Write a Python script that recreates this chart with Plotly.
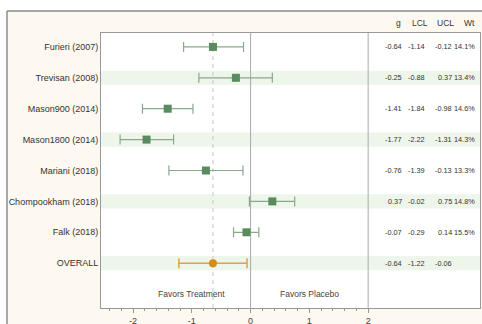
import plotly.graph_objects as go

studies = ["Furieri (2007)", "Trevisan (2008)", "Mason900 (2014)", "Mason1800 (2014)",
           "Mariani (2018)", "Chompookham (2018)", "Falk (2018)"]
g = [-0.64, -0.25, -1.41, -1.77, -0.76, 0.37, -0.07]
lcl = [-1.14, -0.88, -1.84, -2.22, -1.39, -0.02, -0.29]
ucl = [-0.12, 0.37, -0.98, -1.31, -0.13, 0.75, 0.14]
wt = ["14.1%", "13.4%", "14.6%", "14.3%", "13.3%", "14.8%", "15.5%"]
overall_label = "OVERALL"
overall_g = -0.64
overall_lcl = -1.22
overall_ucl = -0.06
tick_vals = [-2, -1, 0, 1, 2]
tick_text = ["-2", "-1", "0", "1", "2"]

labels = studies + [overall_label]
ys = list(range(len(labels)))

FONT = "Liberation Sans, Arial, sans-serif"
CREAM = "#fdf9f1"
fig = go.Figure()

# cream frame background and white plot area
fig.add_shape(type="rect", xref="paper", yref="paper", x0=-0.248, x1=1.2, y0=-0.3, y1=1.08,
              fillcolor=CREAM, line_width=0, layer="below")
fig.add_shape(type="rect", xref="paper", yref="paper", x0=0, x1=1, y0=0, y1=1,
              fillcolor="#ffffff", line_width=0, layer="below")

# stripes on alternate rows
for i in ys:
    if i % 2 == 1:
        fig.add_shape(type="rect", xref="paper", yref="y", x0=0, x1=1, y0=i - 0.23, y1=i + 0.23,
                      fillcolor="#eef5ea", line_width=0, layer="below")

# reference lines
fig.add_shape(type="line", xref="x", yref="paper", x0=overall_g, x1=overall_g, y0=0, y1=1,
              line=dict(color="#cfcfcf", width=1.2, dash="4px,4px"), layer="below")
fig.add_shape(type="line", xref="x", yref="paper", x0=0, x1=0, y0=0, y1=1,
              line=dict(color="#aaaaaa", width=1), layer="below")
fig.add_shape(type="line", xref="x", yref="paper", x0=2, x1=2, y0=0, y1=1,
              line=dict(color="#aaaaaa", width=1), layer="below")

fig.add_trace(go.Scatter(
    x=g, y=ys[:len(studies)], mode="markers",
    marker=dict(symbol="square", size=8, color="#5a8a5f"),
    error_x=dict(type="data", symmetric=False,
                 array=[u - v for u, v in zip(ucl, g)],
                 arrayminus=[v - l for v, l in zip(g, lcl)],
                 color="#8aa88c", thickness=1.2, width=5),
    showlegend=False, hoverinfo="skip"))

fig.add_trace(go.Scatter(
    x=[overall_g], y=[ys[-1]], mode="markers",
    marker=dict(symbol="circle", size=8, color="#d68b12"),
    error_x=dict(type="data", symmetric=False,
                 array=[overall_ucl - overall_g], arrayminus=[overall_g - overall_lcl],
                 color="#e0a43a", thickness=1.5, width=5),
    showlegend=False, hoverinfo="skip"))

# table
col_x = [0.797, 0.858, 0.929, 0.989]
head_x = [0.786, 0.842, 0.910, 0.971]
headers = ["g", "LCL", "UCL", "Wt"]
for cx, h in zip(head_x, headers):
    fig.add_annotation(xref="paper", yref="paper", x=cx, y=1.036, text=h, showarrow=False,
                       xanchor="center", yanchor="middle", font=dict(family=FONT, size=8.5, color="#333"))
for i in ys:
    if i < len(studies):
        row = [f"{g[i]:.2f}", f"{lcl[i]:.2f}", f"{ucl[i]:.2f}", wt[i]]
    else:
        row = [f"{overall_g:.2f}", f"{overall_lcl:.2f}", f"{overall_ucl:.2f}", ""]
    for cx, t in zip(col_x, row):
        fig.add_annotation(xref="paper", yref="y", x=cx, y=i, text=t, showarrow=False,
                           xanchor="right", yanchor="middle", borderpad=0,
                           font=dict(family=FONT, size=7.3, color="#333"))

fig.add_annotation(x=-1, y=len(labels), text="Favors Treatment", showarrow=False,
                   font=dict(family=FONT, size=8.5, color="#444"))
fig.add_annotation(x=1, y=len(labels), text="Favors Placebo", showarrow=False,
                   font=dict(family=FONT, size=8.5, color="#444"))

# outer frame lines
fig.add_shape(type="line", xref="paper", yref="paper", x0=-0.248, x1=1.01, y0=1.08, y1=1.08,
              line=dict(color="#8c8c8c", width=1.5))
fig.add_shape(type="line", xref="paper", yref="paper", x0=-0.248, x1=-0.248, y0=-0.1, y1=1.08,
              line=dict(color="#8c8c8c", width=1.5))

fig.update_layout(
    width=482, height=324,
    margin=dict(l=101, r=2, t=33, b=16, autoexpand=False),
    paper_bgcolor="#ffffff", plot_bgcolor="#ffffff",
    font=dict(family=FONT),
    xaxis=dict(range=[-2.545, 3.903], tickvals=tick_vals, ticktext=tick_text,
               showgrid=False, zeroline=False, showline=True, linecolor="#999999", mirror=True,
               ticks="outside", ticklen=4, tickcolor="#999999", automargin=False,
               minor=dict(tickvals=[-2.4, -2.2, -1.8, -1.6, -1.4, -1.2, -0.8, -0.6, -0.4, -0.2,
                                    0.2, 0.4, 0.6, 0.8, 1.2, 1.4, 1.6, 1.8],
                          ticks="outside", ticklen=2, tickcolor="#999999"),
               tickfont=dict(size=9, color="#444")),
    yaxis=dict(range=[len(labels) + 0.45, -0.45], tickvals=ys, ticktext=labels,
               showgrid=False, zeroline=False, showline=True, linecolor="#999999", mirror=True,
               ticks="", automargin=False, tickfont=dict(size=9, color="#333")),
)

fig.write_html("out.html", config={"displayModeBar": False},
               post_script="document.body.style.margin='0px';")
